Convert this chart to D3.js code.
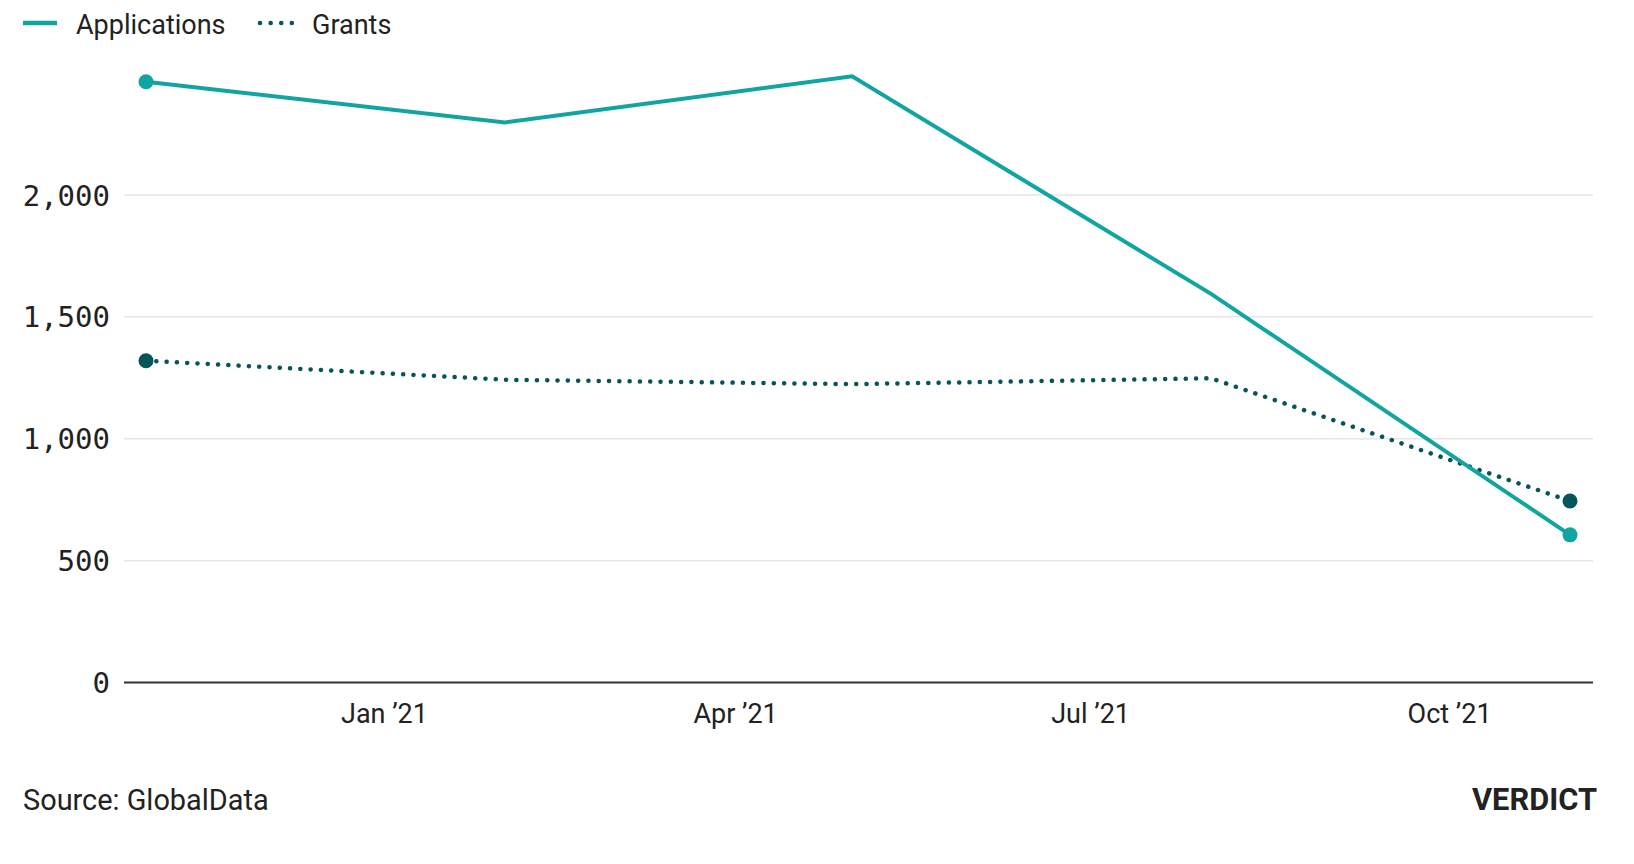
<!DOCTYPE html>
<html>
<head>
<meta charset="utf-8">
<script src="https://cdn.jsdelivr.net/npm/d3@7"></script>
<style>
  html, body { margin: 0; padding: 0; background: #fff; }
  svg { display: block; }
</style>
</head>
<body>
<svg id="chart" width="1634" height="864"></svg>
<script>
// ---- data ----
const dates = ["2020-11-01", "2021-02-01", "2021-05-01", "2021-08-01", "2021-11-01"];
const applications = [2464, 2297, 2486, 1594, 606];
const grants = [1320, 1242, 1224, 1248, 745];
const yTicks = [0, 500, 1000, 1500, 2000];
const xTickDates = ["2021-01-01", "2021-04-01", "2021-07-01", "2021-10-01"];
const xTickLabels = ["Jan \u201921", "Apr \u201921", "Jul \u201921", "Oct \u201921"];
const seriesNames = ["Applications", "Grants"];
const sourceText = "Source: GlobalData";
const brandText = "VERDICT";

const colApp = "#11a5a2";
const colGr = "#06555a";

const parse = d3.utcParse("%Y-%m-%d");
const svg = d3.select("#chart");

const plotLeft = 124, plotRight = 1593;
const x = d3.scaleUtc()
  .domain([parse(dates[0]), parse(dates[dates.length - 1])])
  .range([146, 1570]);
const y = d3.scaleLinear().domain([0, 2000]).range([682.6, 194.9]);

const sans = "Roboto, 'Noto Sans', sans-serif";
const mono = "'DejaVu Sans Mono', monospace";

// gridlines
svg.append("g").selectAll("line")
  .data(yTicks.filter(d => d !== 0))
  .join("line")
  .attr("x1", plotLeft).attr("x2", plotRight)
  .attr("y1", d => y(d)).attr("y2", d => y(d))
  .attr("stroke", "#e6e6e6").attr("stroke-width", 1.5);

// y axis labels
const yAxis = d3.axisLeft(y).tickValues(yTicks).tickFormat(d3.format(",")).tickSize(0).tickPadding(0);
const gy = svg.append("g").attr("transform", `translate(110,0)`).call(yAxis);
gy.select(".domain").remove();
gy.selectAll("text")
  .attr("font-family", mono).attr("font-size", 29).attr("fill", "#222")
  .attr("font-weight", 300)
  .attr("dy", "0.35em");

// baseline axis
svg.append("line")
  .attr("x1", plotLeft).attr("x2", plotRight)
  .attr("y1", y(0)).attr("y2", y(0))
  .attr("stroke", "#333").attr("stroke-width", 2);

// x axis labels
const xAxis = d3.axisBottom(x).tickValues(xTickDates.map(parse))
  .tickFormat((d, i) => xTickLabels[i]).tickSize(0).tickPadding(0);
const gx = svg.append("g").attr("transform", `translate(0,${y(0)})`).call(xAxis);
gx.select(".domain").remove();
gx.selectAll("text")
  .attr("font-family", sans).attr("font-size", 27).attr("fill", "#222")
  .attr("dy", null).attr("y", 40);

// lines
const line = d3.line().x((d, i) => x(parse(dates[i]))).y(d => y(d));

svg.append("path").datum(grants)
  .attr("d", line).attr("fill", "none")
  .attr("stroke", colGr).attr("stroke-width", 4.5)
  .attr("stroke-linecap", "round").attr("stroke-dasharray", "0.1 10.2");

svg.append("path").datum(applications)
  .attr("d", line).attr("fill", "none")
  .attr("stroke", colApp).attr("stroke-width", 4);

// endpoint markers
function endpoints(vals, col) {
  const idx = [0, vals.length - 1];
  svg.append("g").selectAll("circle").data(idx).join("circle")
    .attr("cx", i => x(parse(dates[i]))).attr("cy", i => y(vals[i]))
    .attr("r", 7.5).attr("fill", col);
}
endpoints(grants, colGr);
endpoints(applications, colApp);

// legend
const leg = svg.append("g");
leg.append("line").attr("x1", 23).attr("x2", 57).attr("y1", 23).attr("y2", 23)
  .attr("stroke", colApp).attr("stroke-width", 4.5);
leg.append("text").attr("x", 76).attr("y", 34).text(seriesNames[0])
  .attr("font-family", sans).attr("font-size", 27).attr("fill", "#222");
leg.append("line").attr("x1", 260).attr("x2", 294).attr("y1", 23).attr("y2", 23)
  .attr("stroke", colGr).attr("stroke-width", 4.5)
  .attr("stroke-linecap", "round").attr("stroke-dasharray", "0.1 10.5");
leg.append("text").attr("x", 312).attr("y", 34).text(seriesNames[1])
  .attr("font-family", sans).attr("font-size", 27).attr("fill", "#222");

// footer
svg.append("text").attr("x", 23).attr("y", 810).text(sourceText)
  .attr("font-family", sans).attr("font-size", 28.9).attr("fill", "#222");
svg.append("text").attr("x", 1597).attr("y", 810).text(brandText)
  .attr("text-anchor", "end")
  .attr("font-family", sans).attr("font-size", 30.8).attr("font-weight", "bold").attr("fill", "#222");
</script>
</body>
</html>
